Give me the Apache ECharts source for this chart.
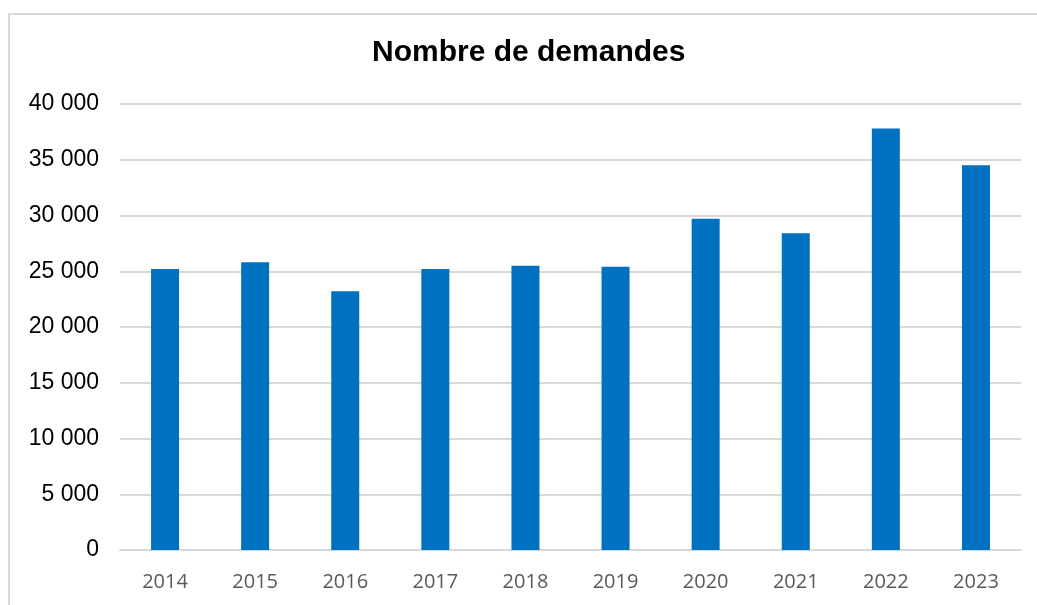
<!DOCTYPE html>
<html>
<head>
<meta charset="utf-8">
<script src="https://cdn.jsdelivr.net/npm/echarts@6/dist/echarts.min.js"></script>
<style>
  html, body { margin: 0; padding: 0; background: #ffffff; }
  #chart { width: 1037px; height: 605px; }
</style>
</head>
<body>
<div id="chart"></div>
<script>
// Annual number of requests
const years = ['2014', '2015', '2016', '2017', '2018', '2019', '2020', '2021', '2022', '2023'];
const demandes = [25200, 25800, 23200, 25200, 25500, 25400, 29700, 28400, 37800, 34500];
const yTicks = [0, 5000, 10000, 15000, 20000, 25000, 30000, 35000, 40000];

// French-style thousands separator: "40 000"
function fmt(v) {
  return String(v).replace(/\B(?=(\d{3})+(?!\d))/g, ' ');
}

const chart = echarts.init(document.getElementById('chart'), null, { renderer: 'canvas' });

chart.setOption({
  animation: false,
  backgroundColor: '#ffffff',
  title: {
    text: 'Nombre de demandes',
    left: 367,
    top: 33,
    textStyle: {
      fontFamily: 'Liberation Sans',
      fontWeight: 'bold',
      fontSize: 30,
      color: '#000000'
    }
  },
  graphic: [{
    type: 'rect',
    shape: { x: 9, y: 14, width: 1100, height: 700 },
    style: { fill: 'none', stroke: '#d9d9d9', lineWidth: 2 },
    silent: true
  }],
  grid: { left: 120, right: 16, top: 104, bottom: 55, containLabel: false },
  xAxis: {
    type: 'category',
    data: years,
    axisLine: { show: true, lineStyle: { color: '#d9d9d9', width: 2 } },
    axisTick: { show: false },
    axisLabel: {
      margin: 22,
      fontFamily: 'Open Sans',
      fontSize: 20,
      color: '#595959'
    }
  },
  yAxis: {
    type: 'value',
    min: yTicks[0],
    max: yTicks[yTicks.length - 1],
    interval: yTicks[1] - yTicks[0],
    axisLine: { show: false },
    axisTick: { show: false },
    splitLine: { lineStyle: { color: '#d9d9d9', width: 2 } },
    axisLabel: {
      margin: 21,
      fontFamily: 'Liberation Sans',
      fontSize: 23,
      color: '#000000',
      formatter: fmt
    }
  },
  series: [{
    type: 'bar',
    data: demandes,
    barWidth: 28,
    itemStyle: { color: '#0070c0' }
  }]
});
</script>
</body>
</html>
